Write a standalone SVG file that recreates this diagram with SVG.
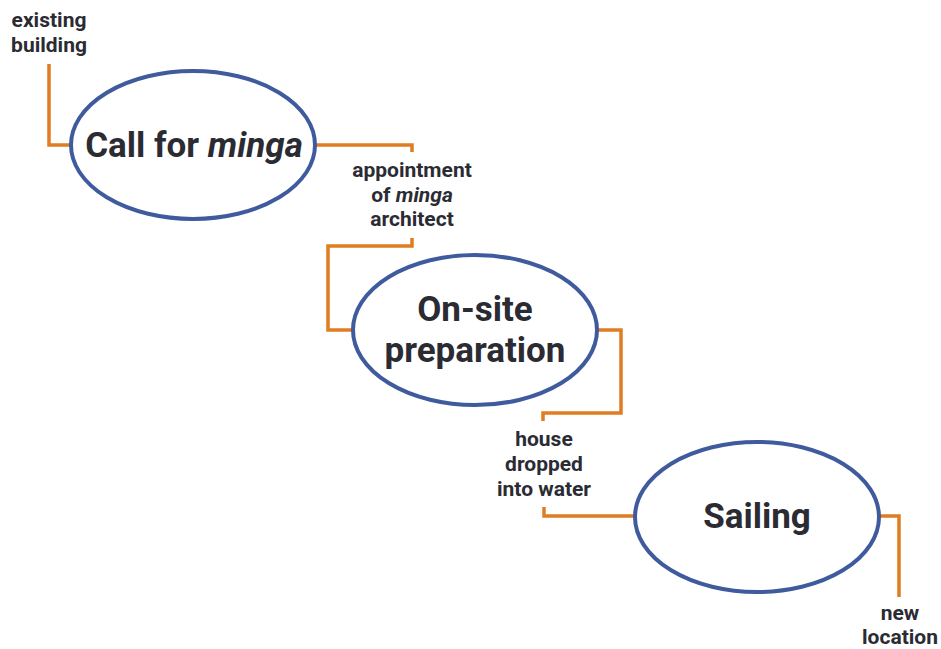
<svg xmlns="http://www.w3.org/2000/svg" width="941" height="649" viewBox="0 0 941 649">
<style>
.node{fill:#fff;stroke:#3f5b9d;stroke-width:4}
.conn{fill:none;stroke:#e07d22;stroke-width:3.5}
.lbl{font-family:Roboto,"Noto Sans",sans-serif;font-weight:700;font-size:21px;fill:#2b2b33;text-anchor:middle}
.big{font-family:Roboto,"Noto Sans",sans-serif;font-weight:700;font-size:35px;fill:#2b2b33;text-anchor:middle}
</style>
<rect width="941" height="649" fill="#fff"/>
<g id="connectors">
<path class="conn" d="M49,64 V145 H71"/>
<path class="conn" d="M316,145 H412 V152"/>
<path class="conn" d="M412,238 V246 H328 V330 H353"/>
<path class="conn" d="M597,330 H621 V413 H543 V421"/>
<path class="conn" d="M544,507 V516 H635"/>
<path class="conn" d="M879,516 H899 V597"/>
</g>
<g id="n1">
<ellipse class="node" cx="193" cy="145" rx="122" ry="74"/>
<text class="big" x="194" y="157">Call for <tspan font-style="italic">minga</tspan></text>
</g>
<g id="n2">
<ellipse class="node" cx="475" cy="330" rx="122" ry="75"/>
<text class="big" x="475" y="321">On-site</text>
<text class="big" x="475" y="362">preparation</text>
</g>
<g id="n3">
<ellipse class="node" cx="757" cy="517" rx="122" ry="75"/>
<text class="big" x="757" y="528">Sailing</text>
</g>
<g id="l1">
<text class="lbl" x="49" y="27">existing</text>
<text class="lbl" x="49" y="52">building</text>
</g>
<g id="l2">
<text class="lbl" x="412" y="177">appointment</text>
<text class="lbl" x="412" y="202">of <tspan font-style="italic">minga</tspan></text>
<text class="lbl" x="412" y="226">architect</text>
</g>
<g id="l3">
<text class="lbl" x="544" y="446">house</text>
<text class="lbl" x="544" y="471">dropped</text>
<text class="lbl" x="544" y="496">into water</text>
</g>
<g id="l4">
<text class="lbl" x="900" y="620">new</text>
<text class="lbl" x="900" y="644">location</text>
</g>
</svg>
